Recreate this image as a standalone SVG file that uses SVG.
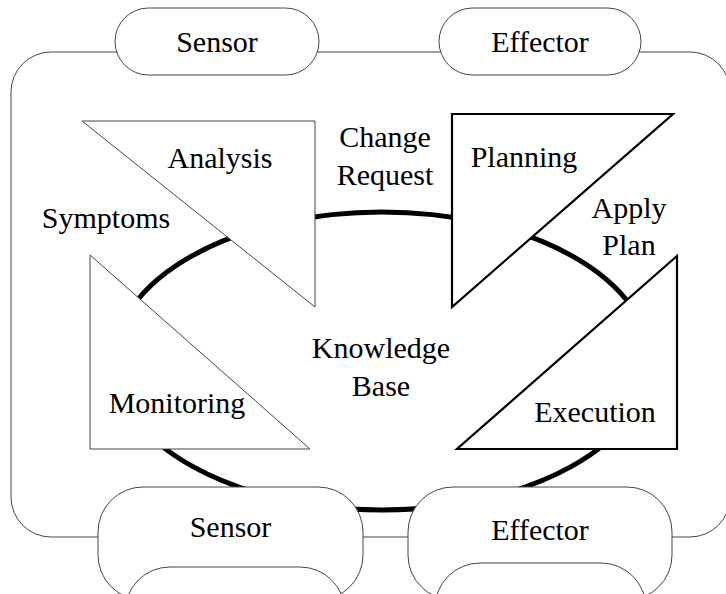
<svg xmlns="http://www.w3.org/2000/svg" width="726" height="594" viewBox="0 0 726 594">
<style>
.thin{fill:#fff;stroke:#444;stroke-width:1}
.bold{fill:#fff;stroke:#000;stroke-width:2.2}
.loop{fill:none;stroke:#000;stroke-width:5}
.outer{fill:none;stroke:#444;stroke-width:1}
.t{font-family:'Liberation Serif','DejaVu Serif',serif;font-size:30px;fill:#000;text-anchor:middle}
</style>
<rect width="726" height="594" fill="#fff"/>
<g id="connectors">
<rect class="outer" x="11" y="52" width="719" height="485" rx="40" ry="40"/>
<ellipse class="loop" cx="382" cy="361" rx="268" ry="149"/>
</g>
<g font-family="Liberation Serif, DejaVu Serif, serif">
<g id="analysis">
<polygon class="thin" points="82,121 315,121 315,307"/>
<text class="t" x="220" y="168">Analysis</text>
</g>
<g id="monitoring">
<polygon class="thin" points="90,255 90,449 310,449"/>
<text class="t" x="177" y="413">Monitoring</text>
</g>
<g id="planning">
<polygon class="bold" points="452,114 673,114 452,307"/>
<text class="t" x="524" y="167">Planning</text>
</g>
<g id="execution">
<polygon class="bold" points="677,256 677,449 457,449"/>
<text class="t" x="595" y="422">Execution</text>
</g>
<g id="labels">
<text class="t" x="385" y="147">Change</text>
<text class="t" x="385" y="185">Request</text>
<text class="t" x="106" y="228">Symptoms</text>
<text class="t" x="629" y="218">Apply</text>
<text class="t" x="629" y="255">Plan</text>
</g>
<g id="knowledge">
<text class="t" x="381" y="358">Knowledge</text>
<text class="t" x="381" y="396">Base</text>
</g>
<g id="sensor-top">
<rect class="thin" x="115" y="8" width="204" height="67" rx="33.5" ry="33.5"/>
<text class="t" x="217" y="52">Sensor</text>
</g>
<g id="effector-top">
<rect class="thin" x="439" y="8" width="202" height="67" rx="33.5" ry="33.5"/>
<text class="t" x="540" y="52">Effector</text>
</g>
<g id="sensor-bottom">
<rect class="thin" x="98" y="487" width="265" height="113" rx="45" ry="45"/>
<rect class="thin" x="125" y="567" width="220" height="113" rx="45" ry="45"/>
<text class="t" x="230.5" y="537">Sensor</text>
</g>
<g id="effector-bottom">
<rect class="thin" x="408" y="487" width="264" height="113" rx="45" ry="45"/>
<rect class="thin" x="435" y="563" width="211" height="117" rx="45" ry="45"/>
<text class="t" x="540" y="540">Effector</text>
</g>
</g>
</svg>
